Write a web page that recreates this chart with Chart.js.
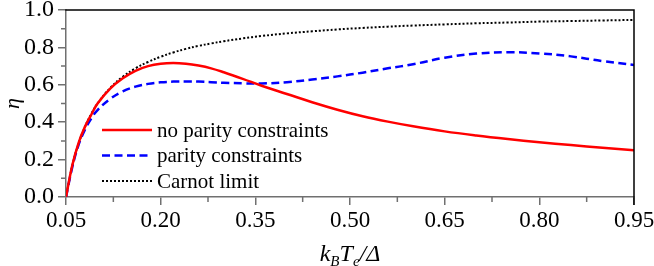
<!DOCTYPE html>
<html>
<head>
<meta charset="utf-8">
<script src="https://cdn.jsdelivr.net/npm/chart.js@4"></script>
<style>
  body { margin: 0; background: #fff; }
  canvas { display: block; }
</style>
</head>
<body>
<canvas id="etaChart" width="654" height="266"></canvas>
<script>
// k_B T_e / Delta
var xValues = [0.05, 0.06, 0.07, 0.08, 0.09, 0.10, 0.12, 0.14, 0.16, 0.18, 0.20, 0.22, 0.24, 0.26, 0.28, 0.30,
               0.33, 0.36, 0.40, 0.44, 0.48, 0.52, 0.56, 0.60, 0.65, 0.70, 0.75, 0.80, 0.85, 0.90, 0.95];
var noParity = [0, 0.17, 0.29, 0.375, 0.44, 0.50, 0.58, 0.635, 0.675, 0.70, 0.713, 0.717, 0.713, 0.703, 0.688, 0.667,
                0.632, 0.595, 0.551, 0.507, 0.467, 0.432, 0.403, 0.378, 0.351, 0.329, 0.31, 0.293, 0.278, 0.263, 0.25];
var withParity = [0, 0.16, 0.28, 0.36, 0.42, 0.465, 0.525, 0.565, 0.59, 0.605, 0.613, 0.617, 0.618, 0.617, 0.614, 0.611,
                  0.608, 0.607, 0.614, 0.628, 0.645, 0.665, 0.688, 0.71, 0.745, 0.767, 0.774, 0.768, 0.752, 0.727, 0.706];
var carnot = [0, 0.167, 0.286, 0.375, 0.444, 0.5, 0.583, 0.643, 0.688, 0.722, 0.75, 0.773, 0.792, 0.808, 0.821, 0.833,
              0.848, 0.861, 0.875, 0.886, 0.896, 0.904, 0.911, 0.917, 0.923, 0.929, 0.933, 0.938, 0.941, 0.944, 0.947];
var seriesLabels = ['no parity constraints', 'parity constraints', 'Carnot limit'];
var xTicks = [0.05, 0.20, 0.35, 0.50, 0.65, 0.80, 0.95];
var yTicks = [0.0, 0.2, 0.4, 0.6, 0.8, 1.0];

var serif = "'Liberation Serif', 'Times New Roman', serif";
var axisGray = '#707070';

function pts(ys) {
    return xValues.map(function (x, i) { return { x: x, y: ys[i] }; });
}

// minor ticks, top/right frame, legend and x title
var extras = {
    id: 'extras',
    afterDraw: function (chart) {
        var ctx = chart.ctx, a = chart.chartArea;
        var xs = chart.scales.x, ys = chart.scales.y;
        ctx.save();
        ctx.strokeStyle = axisGray;
        ctx.lineWidth = 1.5;
        ctx.beginPath();
        for (var i = 0; i < xTicks.length - 1; i++) {
            var px = xs.getPixelForValue((xTicks[i] + xTicks[i + 1]) / 2);
            ctx.moveTo(px, a.bottom);
            ctx.lineTo(px, a.bottom + 5);
        }
        for (var j = 0; j < yTicks.length - 1; j++) {
            var py = ys.getPixelForValue((yTicks[j] + yTicks[j + 1]) / 2);
            ctx.moveTo(a.left, py);
            ctx.lineTo(a.left - 5, py);
        }
        ctx.stroke();

        ctx.strokeStyle = '#000';
        ctx.beginPath();
        ctx.moveTo(a.left - 0.75, a.top);
        ctx.lineTo(a.right, a.top);
        ctx.lineTo(a.right, a.bottom + 8);
        ctx.stroke();

        // legend
        var rows = [130, 155.5, 181];
        chart.data.datasets.forEach(function (ds, k) {
            ctx.strokeStyle = ds.borderColor;
            ctx.lineWidth = ds.borderWidth;
            ctx.setLineDash(ds.borderDash || []);
            ctx.beginPath();
            ctx.moveTo(102, rows[k]);
            ctx.lineTo(152, rows[k]);
            ctx.stroke();
            ctx.setLineDash([]);
            ctx.fillStyle = '#000';
            ctx.font = '21px ' + serif;
            ctx.textBaseline = 'middle';
            ctx.textAlign = 'left';
            ctx.fillText(ds.label, 157, rows[k] + 1);
        });

        // x title: k_B T_e / Delta
        var parts = [
            { t: 'k', f: 'italic 24px ', dy: 0 },
            { t: 'B', f: 'italic 15px ', dy: 5 },
            { t: 'T', f: 'italic 24px ', dy: 0 },
            { t: 'e', f: 'italic 15px ', dy: 5 },
            { t: '/\u0394', f: 'italic 24px ', dy: 0 }
        ];
        var total = 0;
        parts.forEach(function (p) { ctx.font = p.f + serif; total += ctx.measureText(p.t).width; });
        var cx = (a.left + a.right) / 2 - total / 2, base = 261;
        ctx.textBaseline = 'alphabetic';
        parts.forEach(function (p) {
            ctx.font = p.f + serif;
            ctx.fillText(p.t, cx, base + p.dy);
            cx += ctx.measureText(p.t).width;
        });
        ctx.restore();
    }
};

function draw() {
    var ctx = document.getElementById('etaChart').getContext('2d');
    var etaChart = new Chart(ctx, {
        type: 'line',
        data: {
            datasets: [{
                label: seriesLabels[0],
                data: pts(noParity),
                borderColor: '#ff0000',
                borderWidth: 2.5
            }, {
                label: seriesLabels[1],
                data: pts(withParity),
                borderColor: '#0000ff',
                borderWidth: 2.5,
                borderDash: [8, 4.5]
            }, {
                label: seriesLabels[2],
                data: pts(carnot),
                borderColor: '#000000',
                borderWidth: 2,
                borderDash: [2, 2]
            }]
        },
        options: {
            responsive: false,
            animation: false,
            devicePixelRatio: 1,
            elements: {
                point: { radius: 0 },
                line: { tension: 0.4, fill: false }
            },
            layout: { padding: 0 },
            plugins: {
                legend: { display: false },
                tooltip: { enabled: false }
            },
            scales: {
                x: {
                    type: 'linear',
                    min: 0.05,
                    max: 0.95,
                    afterBuildTicks: function (s) { s.ticks = xTicks.map(function (v) { return { value: v }; }); },
                    afterFit: function (s) { s.height = 69; s.paddingLeft = 0; s.paddingRight = 20; },
                    ticks: {
                        color: '#000',
                        font: { family: serif, size: 23 },
                        padding: 2,
                        maxRotation: 0,
                        callback: function (v) { return Number(v).toFixed(2); }
                    },
                    grid: { drawOnChartArea: false, tickLength: 8, color: axisGray, lineWidth: 1.5 },
                    border: { color: axisGray, width: 1.5 }
                },
                y: {
                    min: 0,
                    max: 1,
                    afterBuildTicks: function (s) { s.ticks = yTicks.map(function (v) { return { value: v }; }); },
                    afterFit: function (s) { s.width = 66; s.paddingTop = 10; s.paddingBottom = 0; },
                    ticks: {
                        color: '#000',
                        font: { family: serif, size: 24 },
                        padding: 4,
                        callback: function (v) { return Number(v).toFixed(1); }
                    },
                    grid: { drawOnChartArea: false, tickLength: 8, color: axisGray, lineWidth: 1.5 },
                    border: { color: axisGray, width: 1.5 },
                    title: {
                        display: true,
                        text: '\u03b7',
                        color: '#000',
                        font: { family: serif, size: 22, style: 'italic' },
                        padding: 0
                    }
                }
            }
        },
        plugins: [extras]
    });
}

Promise.all([
    document.fonts.load("22px 'Liberation Serif'"),
    document.fonts.load("italic 22px 'Liberation Serif'")
]).then(draw, draw);
</script>
</body>
</html>
